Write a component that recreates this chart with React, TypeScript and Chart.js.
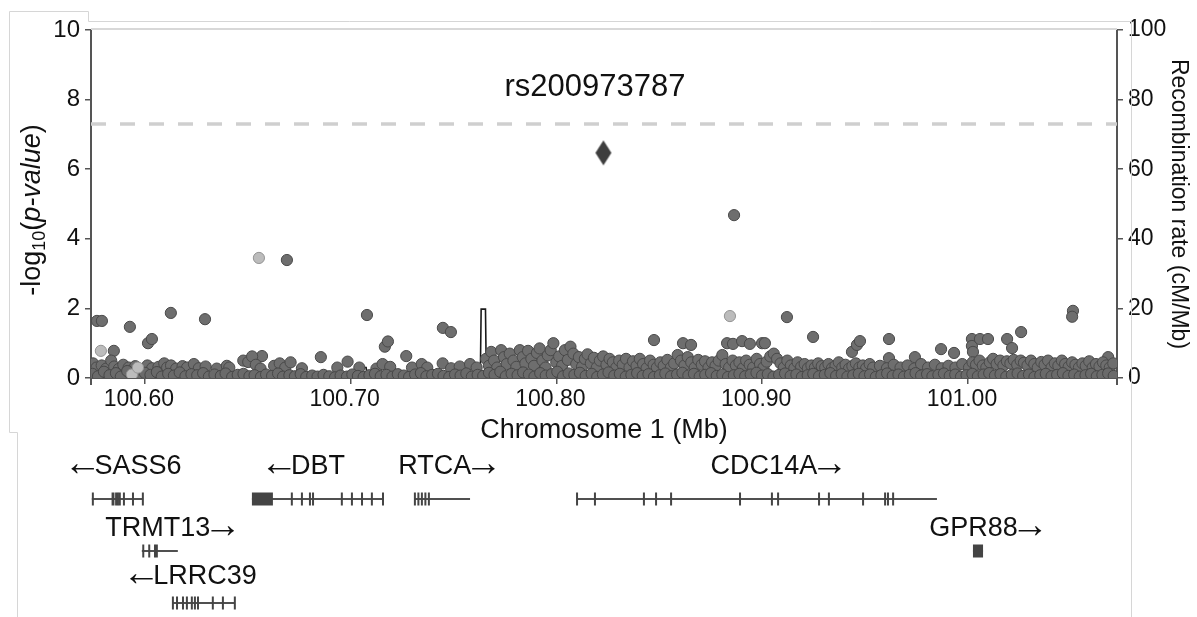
import React, { useEffect, useRef } from 'react';
import { Chart, registerables } from 'chart.js';

Chart.register(...registerables);

const FONT = '"Liberation Sans", Arial, Helvetica, sans-serif';

// ---------- axis data ----------
const X_MIN = 100.5738;
const X_MAX = 101.0724;
const xTicks = [100.6, 100.7, 100.8, 100.9, 101.0];
const yTicks = [0, 2, 4, 6, 8, 10];
const recombTicks = [0, 20, 40, 60, 80, 100];
const significanceLine = 7.3;

// ---------- lead SNP ----------
const leadSnpName = 'rs200973787';
const leadSnp: [number, number] = [100.8228, 6.47];

// ---------- SNPs (position Mb, -log10 p) ----------
const snpBand: [number, number][] = [
  [100.5745, 0.12], [100.5772, 0.05], [100.5801, 0.18], [100.5828, 0.08], [100.5859, 0.14], [100.5883, 0.04], [100.5914, 0.2], [100.5942, 0.1], [100.5968, 0.06], [100.5999, 0.15],
  [100.6027, 0.09], [100.6058, 0.17], [100.6082, 0.04], [100.6113, 0.12], [100.6141, 0.07], [100.6169, 0.16], [100.6197, 0.05], [100.6226, 0.11], [100.6254, 0.08], [100.6283, 0.14],
  [100.6311, 0.04], [100.6338, 0.1], [100.6369, 0.06], [100.6392, 0.13], [100.6424, 0.03], [100.6451, 0.09], [100.6479, 0.12], [100.6508, 0.05], [100.6533, 0.08], [100.6564, 0.03],
  [100.6589, 0.1], [100.6618, 0.06], [100.6647, 0.13], [100.6671, 0.04], [100.6702, 0.08], [100.6729, 0.05], [100.6757, 0.11], [100.6784, 0.03], [100.6813, 0.07], [100.6839, 0.04],
  [100.6868, 0.09], [100.6896, 0.05], [100.6924, 0.02], [100.6951, 0.07], [100.6982, 0.04], [100.7008, 0.1], [100.7035, 0.06], [100.7063, 0.03], [100.7091, 0.08], [100.7118, 0.12],
  [100.7146, 0.05], [100.7174, 0.09], [100.7203, 0.04], [100.7229, 0.11], [100.7258, 0.07], [100.7284, 0.03], [100.7313, 0.1], [100.7341, 0.14], [100.7368, 0.05], [100.7396, 0.09],
  [100.7424, 0.12], [100.7451, 0.06], [100.7479, 0.03], [100.7507, 0.1], [100.7534, 0.07], [100.7562, 0.13], [100.7589, 0.04], [100.7617, 0.09], [100.7644, 0.06], [100.7672, 0.15],
  [100.7699, 0.09], [100.7727, 0.18], [100.7754, 0.05], [100.7782, 0.12], [100.7811, 0.08], [100.7838, 0.16], [100.7866, 0.1], [100.7893, 0.04], [100.7921, 0.14], [100.7948, 0.07],
  [100.7977, 0.11], [100.8004, 0.18], [100.8032, 0.05], [100.8059, 0.13], [100.8087, 0.09], [100.8114, 0.15], [100.8142, 0.06], [100.8171, 0.12], [100.8198, 0.03], [100.8226, 0.1],
  [100.8253, 0.16], [100.8281, 0.07], [100.8308, 0.12], [100.8337, 0.04], [100.8364, 0.09], [100.8392, 0.14], [100.8419, 0.06], [100.8447, 0.11], [100.8474, 0.03], [100.8502, 0.08],
  [100.8529, 0.13], [100.8557, 0.05], [100.8586, 0.1], [100.8612, 0.15], [100.8641, 0.07], [100.8668, 0.12], [100.8696, 0.04], [100.8723, 0.09], [100.8751, 0.14], [100.8779, 0.06],
  [100.8806, 0.1], [100.8834, 0.03], [100.8862, 0.08], [100.8889, 0.12], [100.8917, 0.05], [100.8944, 0.1], [100.8972, 0.15], [100.8999, 0.07], [100.9027, 0.11], [100.9055, 0.04],
  [100.9082, 0.09], [100.9111, 0.13], [100.9138, 0.06], [100.9166, 0.1], [100.9193, 0.03], [100.9221, 0.08], [100.9248, 0.12], [100.9276, 0.05], [100.9304, 0.09], [100.9331, 0.14],
  [100.9359, 0.06], [100.9386, 0.11], [100.9414, 0.04], [100.9442, 0.08], [100.9469, 0.12], [100.9497, 0.05], [100.9524, 0.1], [100.9552, 0.03], [100.9579, 0.08], [100.9607, 0.13],
  [100.9634, 0.06], [100.9662, 0.1], [100.9689, 0.04], [100.9717, 0.09], [100.9745, 0.14], [100.9772, 0.07], [100.9801, 0.11], [100.9827, 0.05], [100.9856, 0.09], [100.9883, 0.13],
  [100.9911, 0.06], [100.9938, 0.1], [100.9966, 0.04], [100.9993, 0.08], [101.0021, 0.12], [101.0048, 0.05], [101.0076, 0.1], [101.0103, 0.14], [101.0131, 0.07], [101.0158, 0.11],
  [101.0186, 0.04], [101.0213, 0.09], [101.0241, 0.13], [101.0268, 0.06], [101.0296, 0.1], [101.0323, 0.03], [101.0351, 0.08], [101.0378, 0.12], [101.0406, 0.05], [101.0433, 0.09],
  [101.0461, 0.14], [101.0488, 0.06], [101.0516, 0.1], [101.0543, 0.04], [101.0571, 0.08], [101.0598, 0.12], [101.0626, 0.05], [101.0653, 0.09], [101.0681, 0.13], [101.0708, 0.06],
];

const snpMid: [number, number][] = [
  [100.5748, 0.42], [100.5765, 0.3], [100.579, 0.36], [100.5812, 0.27], [100.5836, 0.5], [100.5851, 0.33], [100.5873, 0.26], [100.5895, 0.38], [100.5921, 0.3], [100.5953, 0.34], [100.5978, 0.25],
  [100.6012, 0.36], [100.6035, 0.28], [100.6066, 0.32], [100.6094, 0.42], [100.6108, 0.3], [100.6127, 0.36], [100.6152, 0.27], [100.6183, 0.34], [100.6205, 0.3], [100.6238, 0.4], [100.6262, 0.28], [100.6295, 0.33], [100.6349, 0.27], [100.6398, 0.35], [100.641, 0.3],
  [100.6478, 0.5], [100.6502, 0.46], [100.6521, 0.62], [100.6539, 0.38], [100.6562, 0.27], [100.6628, 0.35], [100.6655, 0.42], [100.6682, 0.3], [100.6708, 0.45], [100.6763, 0.28], [100.6855, 0.6], [100.6935, 0.3], [100.6985, 0.47],
  [100.7042, 0.3], [100.7125, 0.27], [100.7155, 0.4], [100.7192, 0.32], [100.727, 0.63], [100.7298, 0.3], [100.7345, 0.4], [100.7372, 0.3], [100.7447, 0.42], [100.7488, 0.28], [100.753, 0.33], [100.758, 0.4], [100.7612, 0.3],
  [100.7658, 0.55], [100.7672, 0.35], [100.7683, 0.75], [100.7697, 0.5], [100.7712, 0.3], [100.7731, 0.8], [100.7745, 0.6], [100.7758, 0.4], [100.7773, 0.7], [100.7791, 0.5], [100.7805, 0.32], [100.7822, 0.8], [100.7836, 0.6], [100.7849, 0.42], [100.7862, 0.78],
  [100.7878, 0.55], [100.7891, 0.35], [100.7905, 0.72], [100.7918, 0.85], [100.7932, 0.5], [100.7947, 0.3], [100.7958, 0.65], [100.7972, 0.8], [100.7985, 1.0], [100.7999, 0.45], [100.8013, 0.62], [100.8027, 0.35], [100.8041, 0.8], [100.8055, 0.52], [100.8068, 0.9],
  [100.8082, 0.7], [100.8096, 0.4], [100.8109, 0.6], [100.8124, 0.32], [100.8138, 0.55], [100.8151, 0.68], [100.8167, 0.42], [100.8182, 0.58], [100.8196, 0.3], [100.8211, 0.5], [100.8227, 0.62], [100.8243, 0.38], [100.8258, 0.55], [100.8274, 0.45], [100.8291, 0.3],
  [100.8305, 0.5], [100.8322, 0.38], [100.8338, 0.55], [100.8355, 0.3], [100.8372, 0.48], [100.8389, 0.35], [100.8405, 0.55], [100.8421, 0.4], [100.8438, 0.28], [100.8455, 0.5], [100.8472, 0.38], [100.8488, 0.3], [100.8505, 0.45], [100.8521, 0.35], [100.8539, 0.52],
  [100.8556, 0.3], [100.8572, 0.42], [100.8589, 0.66], [100.8605, 0.5], [100.8622, 0.36], [100.8638, 0.6], [100.8655, 0.45], [100.8672, 0.3], [100.8689, 0.52], [100.8706, 0.38], [100.8722, 0.48], [100.8739, 0.3], [100.8756, 0.45], [100.8773, 0.35], [100.8789, 0.5],
  [100.8806, 0.66], [100.8822, 0.4], [100.8839, 0.3], [100.8856, 0.5], [100.8872, 0.36], [100.8889, 0.45], [100.8906, 0.28], [100.8922, 0.5], [100.8939, 0.38], [100.8956, 0.3], [100.8973, 0.55], [100.8989, 0.4], [100.9006, 0.3], [100.9022, 0.47], [100.9039, 0.62],
  [100.9056, 0.7], [100.9072, 0.55], [100.9089, 0.42], [100.9105, 0.3], [100.9122, 0.5], [100.9139, 0.36], [100.9156, 0.28], [100.9172, 0.45], [100.9189, 0.32], [100.9206, 0.4], [100.9222, 0.28], [100.9239, 0.36], [100.9256, 0.3], [100.9272, 0.42], [100.9289, 0.34],
  [100.9306, 0.3], [100.9322, 0.4], [100.9339, 0.28], [100.9356, 0.35], [100.9372, 0.45], [100.9389, 0.3], [100.9405, 0.38], [100.9422, 0.27], [100.9438, 0.34], [100.9455, 0.42], [100.9472, 0.3], [100.9489, 0.36], [100.9505, 0.28], [100.9522, 0.4], [100.9539, 0.3],
  [100.9572, 0.35], [100.9606, 0.28], [100.9639, 0.38], [100.9672, 0.3], [100.9706, 0.36], [100.9739, 0.27], [100.9772, 0.4], [100.9806, 0.3], [100.9839, 0.38], [100.9872, 0.28], [100.9905, 0.35], [100.9939, 0.3], [100.9972, 0.4],
  [101.0005, 0.3], [101.0022, 0.45], [101.0039, 0.38], [101.0056, 0.5], [101.0072, 0.36], [101.0089, 0.3], [101.0106, 0.45], [101.0122, 0.55], [101.0139, 0.4], [101.0156, 0.5], [101.0172, 0.36], [101.0189, 0.48], [101.0206, 0.42], [101.0222, 0.52], [101.0239, 0.38],
  [101.0256, 0.5], [101.0272, 0.44], [101.0289, 0.36], [101.0306, 0.5], [101.0322, 0.4], [101.0339, 0.3], [101.0356, 0.46], [101.0372, 0.38], [101.0389, 0.5], [101.0406, 0.3], [101.0422, 0.42], [101.0439, 0.35], [101.0456, 0.5], [101.0472, 0.4], [101.0489, 0.32],
  [101.0506, 0.45], [101.0522, 0.38], [101.0539, 0.3], [101.0556, 0.42], [101.0572, 0.35], [101.0589, 0.48], [101.0606, 0.3], [101.0622, 0.4], [101.0639, 0.33], [101.0656, 0.45], [101.0672, 0.36], [101.0689, 0.3], [101.0706, 0.42],
];

const snpUpper: [number, number][] = [
  [100.5767, 1.64], [100.5791, 1.64], [100.5849, 0.78], [100.5927, 1.47], [100.6015, 1.0], [100.6034, 1.12], [100.6126, 1.87], [100.6292, 1.69],
  [100.6496, 0.48], [100.6569, 0.63], [100.669, 3.39], [100.7079, 1.81], [100.7166, 0.9], [100.7181, 1.05], [100.7448, 1.44], [100.7487, 1.32],
  [100.8474, 1.09], [100.8615, 1.0], [100.8654, 0.95], [100.8829, 1.0], [100.8858, 0.98], [100.8863, 4.68], [100.8902, 1.06], [100.894, 0.98],
  [100.8999, 1.0], [100.9013, 1.0], [100.912, 1.75], [100.9247, 1.18], [100.9436, 0.75], [100.946, 0.95], [100.9475, 1.06], [100.9616, 1.12],
  [100.9616, 0.57], [100.9742, 0.6], [100.9869, 0.83], [100.9932, 0.72], [101.0019, 1.12], [101.0019, 0.92], [101.0024, 0.75], [101.0058, 1.12],
  [101.0097, 1.12], [101.019, 1.12], [101.0214, 0.86], [101.0258, 1.32], [101.051, 1.93], [101.0506, 1.76], [101.0681, 0.6],
];

const snpLight: [number, number][] = [
  [100.5786, 0.78], [100.5937, 0.1], [100.5966, 0.3], [100.6554, 3.45], [100.8843, 1.78],
];

// ---------- recombination rate (position Mb, cM/Mb) ----------
const recombRate: [number, number][] = [
  [100.5738, 0.6], [100.6, 0.8], [100.64, 0.5], [100.704, 0.5], [100.7045, 3.0], [100.7075, 3.0], [100.708, 0.4],
  [100.763, 0.6], [100.7634, 19.8], [100.7655, 19.8], [100.7659, 0.8], [100.83, 1.0], [100.89, 0.6], [100.9, 0.6],
  [100.9005, 1.8], [100.9025, 1.8], [100.903, 0.5], [100.9255, 0.5], [100.9258, 3.8], [100.927, 3.8], [100.9273, 0.5],
  [101.0, 0.8], [101.04, 0.8], [101.0724, 0.6],
];

// ---------- genes ----------
type Gene = { name: string; dir: number; row: number; start: number; end: number; label: number; exons: [number, number][] };
const genes: Gene[] = [
  { name: 'SASS6', dir: -1, row: 0, start: 100.5742, end: 100.599, label: 100.5966,
    exons: [[100.5747, 100.5747], [100.5838, 100.5852], [100.586, 100.586], [100.5869, 100.5869], [100.5878, 100.5878], [100.5898, 100.5898], [100.5942, 100.5942], [100.599, 100.599]] },
  { name: 'DBT', dir: -1, row: 0, start: 100.652, end: 100.7157, label: 100.6841,
    exons: [[100.652, 100.6622], [100.6714, 100.6714], [100.6763, 100.6763], [100.6802, 100.6802], [100.6817, 100.6817], [100.6957, 100.6957], [100.7006, 100.7006], [100.7055, 100.7055], [100.7103, 100.7103], [100.7157, 100.7157]] },
  { name: 'RTCA', dir: 1, row: 0, start: 100.7312, end: 100.758, label: 100.7409,
    exons: [[100.7312, 100.7312], [100.7329, 100.7329], [100.7346, 100.7346], [100.7363, 100.7363], [100.738, 100.738]] },
  { name: 'CDC14A', dir: 1, row: 0, start: 100.81, end: 100.9849, label: 100.9008,
    exons: [[100.81, 100.81], [100.8187, 100.8187], [100.8425, 100.8425], [100.8484, 100.8484], [100.8557, 100.8557], [100.8892, 100.8892], [100.9047, 100.9047], [100.9077, 100.9077],
      [100.9276, 100.9276], [100.9324, 100.9324], [100.949, 100.949], [100.9597, 100.9597], [100.9611, 100.9611], [100.9636, 100.9636]] },
  { name: 'TRMT13', dir: 1, row: 1, start: 100.5985, end: 100.616, label: 100.6063,
    exons: [[100.5992, 100.5992], [100.6021, 100.6021], [100.6049, 100.6049], [100.6058, 100.6058]] },
  { name: 'GPR88', dir: 1, row: 1, start: 101.0024, end: 101.0073, label: 101.0027,
    exons: [[101.0024, 101.0073]] },
  { name: 'LRRC39', dir: -1, row: 2, start: 100.6136, end: 100.6437, label: 100.6292,
    exons: [[100.6136, 100.6136], [100.6156, 100.6156], [100.6185, 100.6185], [100.6204, 100.6204], [100.6228, 100.6228], [100.6243, 100.6243], [100.6258, 100.6258], [100.633, 100.633], [100.6379, 100.6379], [100.6437, 100.6437]] },
];

const toXY = (arr: [number, number][]) => arr.map(([x, y]) => ({ x, y }));

export default function App() {
  const ref = useRef<HTMLCanvasElement>(null);

  useEffect(() => {
    const canvas = ref.current;
    if (!canvas) return;

    const diamond = document.createElement('canvas');
    diamond.width = 18;
    diamond.height = 27;
    const dctx = diamond.getContext('2d')!;
    dctx.fillStyle = '#3e3e3e';
    dctx.beginPath();
    dctx.moveTo(9, 1);
    dctx.lineTo(17, 13.5);
    dctx.lineTo(9, 26);
    dctx.lineTo(1, 13.5);
    dctx.closePath();
    dctx.fill();

    const decor = {
      id: 'decor',
      beforeDraw(chart: any) {
        const ctx = chart.ctx;
        ctx.save();
        ctx.fillStyle = '#ffffff';
        ctx.fillRect(0, 0, chart.width, chart.height);
        ctx.restore();
      },
      beforeDatasetsDraw(chart: any) {
        const ctx = chart.ctx;
        const { left, right } = chart.chartArea;
        const y = chart.scales.y.getPixelForValue(significanceLine);
        ctx.save();
        ctx.strokeStyle = '#cfcfcf';
        ctx.lineWidth = 3.5;
        ctx.setLineDash([15, 14]);
        ctx.beginPath();
        ctx.moveTo(left, y);
        ctx.lineTo(right, y);
        ctx.stroke();
        ctx.restore();
      },
      afterDraw(chart: any) {
        const ctx = chart.ctx;
        const { left, right, top, bottom } = chart.chartArea;
        const xs = chart.scales.x;
        ctx.save();

        // outer light frame
        ctx.strokeStyle = '#d6d6d6';
        ctx.lineWidth = 1;
        ctx.beginPath();
        ctx.moveTo(9.5, 432.5);
        ctx.lineTo(9.5, 11.5);
        ctx.lineTo(88.5, 11.5);
        ctx.lineTo(88.5, 21.5);
        ctx.lineTo(1131.5, 21.5);
        ctx.lineTo(1131.5, 617);
        ctx.moveTo(9.5, 432.5);
        ctx.lineTo(17.5, 432.5);
        ctx.lineTo(17.5, 617);
        ctx.stroke();

        // plot top border
        ctx.strokeStyle = '#d8d8d8';
        ctx.lineWidth = 2;
        ctx.beginPath();
        ctx.moveTo(left, top - 1);
        ctx.lineTo(right, top - 1);
        ctx.stroke();

        // axis end stubs below the x axis
        ctx.strokeStyle = '#555';
        ctx.lineWidth = 2;
        ctx.beginPath();
        ctx.moveTo(left, bottom);
        ctx.lineTo(left, bottom + 7);
        ctx.moveTo(right, bottom);
        ctx.lineTo(right, bottom + 7);
        ctx.stroke();

        ctx.fillStyle = '#111';
        // title
        ctx.font = `31px ${FONT}`;
        ctx.textAlign = 'center';
        ctx.textBaseline = 'middle';
        ctx.fillText(leadSnpName, 595, 87);

        // x-axis title
        ctx.font = `27px ${FONT}`;
        ctx.fillText('Chromosome 1 (Mb)', 604, 431);

        // left y title: -log10(p-value)
        ctx.save();
        ctx.translate(40, 210);
        ctx.rotate(-Math.PI / 2);
        ctx.textAlign = 'left';
        ctx.textBaseline = 'alphabetic';
        const parts = [
          { t: '-log', f: `27px ${FONT}`, dy: 0 },
          { t: '10', f: `18px ${FONT}`, dy: 5 },
          { t: '(', f: `27px ${FONT}`, dy: 0 },
          { t: 'p-value', f: `italic 27px ${FONT}`, dy: 0 },
          { t: ')', f: `27px ${FONT}`, dy: 0 },
        ];
        let total = 0;
        for (const p of parts) {
          ctx.font = p.f;
          total += ctx.measureText(p.t).width;
        }
        let tx = -total / 2;
        for (const p of parts) {
          ctx.font = p.f;
          ctx.fillText(p.t, tx, p.dy);
          tx += ctx.measureText(p.t).width;
        }
        ctx.restore();

        // gene track
        const rowLabelY = [467, 529, 577];
        const rowGeneY = [499, 551, 603];
        const nameFont = `27px ${FONT}`;
        const arrowFont = `38px ${FONT}`;
        for (const g of genes) {
          const gy = rowGeneY[g.row];
          const x0 = xs.getPixelForValue(g.start);
          const x1 = xs.getPixelForValue(g.end);
          ctx.strokeStyle = '#505050';
          ctx.lineWidth = 2;
          ctx.beginPath();
          ctx.moveTo(x0, gy);
          ctx.lineTo(x1, gy);
          ctx.stroke();
          ctx.fillStyle = '#444';
          for (const [s, e] of g.exons) {
            const ex0 = xs.getPixelForValue(s);
            const ex1 = xs.getPixelForValue(e);
            const w = Math.max(2, ex1 - ex0);
            ctx.fillRect(ex0 - (ex1 - ex0 < 2 ? 1 : 0), gy - 6.5, w, 13);
          }
          // label: name centred on its anchor, arrow attached on the strand side
          ctx.fillStyle = '#111';
          ctx.textAlign = 'left';
          ctx.textBaseline = 'middle';
          ctx.font = nameFont;
          const nameW = ctx.measureText(g.name).width;
          const arrow = g.dir < 0 ? '\u2190' : '\u2192';
          ctx.font = arrowFont;
          const arrowW = ctx.measureText(arrow).width;
          const cx = xs.getPixelForValue(g.label);
          const ly = rowLabelY[g.row];
          const nameX = cx - nameW / 2;
          ctx.font = nameFont;
          ctx.fillText(g.name, nameX, ly);
          ctx.font = arrowFont;
          if (g.dir < 0) {
            ctx.fillText(arrow, nameX - arrowW + 7, ly - 2);
          } else {
            ctx.fillText(arrow, nameX + nameW - 7, ly - 2);
          }
        }
        ctx.restore();
      },
    };

    const pointBase = {
      type: 'scatter' as const,
      xAxisID: 'x',
      yAxisID: 'y',
      pointRadius: 5.6,
      pointBorderWidth: 1,
      clip: 0,
    };

    const chart = new Chart(canvas, {
      type: 'scatter',
      data: {
        datasets: [
          {
            type: 'line',
            label: 'Recombination rate',
            data: toXY(recombRate),
            xAxisID: 'x',
            yAxisID: 'y2',
            borderColor: '#1a1a1a',
            borderWidth: 1.6,
            pointRadius: 0,
            fill: false,
            tension: 0,
            order: 4,
            clip: 0,
          } as any,
          { ...pointBase, label: 'band', data: toXY(snpBand), backgroundColor: '#6a6a6a', borderColor: '#474747', order: 3 },
          { ...pointBase, label: 'mid', data: toXY(snpMid), backgroundColor: '#6e6e6e', borderColor: '#4a4a4a', order: 3 },
          { ...pointBase, label: 'upper', data: toXY(snpUpper), backgroundColor: '#6e6e6e', borderColor: '#4a4a4a', order: 3 },
          { ...pointBase, label: 'light', data: toXY(snpLight), backgroundColor: '#bcbcbc', borderColor: '#959595', order: 2 },
          {
            type: 'scatter',
            label: leadSnpName,
            data: toXY([leadSnp]),
            xAxisID: 'x',
            yAxisID: 'y',
            pointStyle: diamond,
            pointRadius: 12,
            order: 1,
          } as any,
        ],
      },
      options: {
        responsive: false,
        maintainAspectRatio: false,
        animation: false,
        devicePixelRatio: 1,
        events: [],
        layout: { padding: { top: 30, left: 0, right: 0, bottom: 0 } },
        plugins: {
          legend: { display: false },
          tooltip: { enabled: false },
          title: { display: false },
        },
        scales: {
          x: {
            type: 'linear',
            position: 'bottom',
            min: X_MIN,
            max: X_MAX,
            afterBuildTicks: (s: any) => {
              s.ticks = xTicks.map((v) => ({ value: v }));
            },
            afterFit: (s: any) => {
              s.height = 617 - 378;
            },
            ticks: {
              autoSkip: false,
              maxRotation: 0,
              padding: 2,
              labelOffset: -6,
              color: '#111',
              font: { family: FONT, size: 23 },
              callback: (v: any) => Number(v).toFixed(2),
            },
            grid: { drawOnChartArea: false, drawTicks: true, tickLength: 6, color: '#555', lineWidth: 1.5 },
            border: { display: true, color: '#555', width: 2 },
          },
          y: {
            type: 'linear',
            position: 'left',
            min: 0,
            max: 10,
            afterBuildTicks: (s: any) => {
              s.ticks = yTicks.map((v) => ({ value: v }));
            },
            afterFit: (s: any) => {
              s.width = 91;
            },
            ticks: { padding: 5, color: '#111', font: { family: FONT, size: 24 } },
            grid: { drawOnChartArea: false, drawTicks: true, tickLength: 6, color: '#555', lineWidth: 1.5 },
            border: { display: true, color: '#555', width: 2 },
          },
          y2: {
            type: 'linear',
            position: 'right',
            min: 0,
            max: 100,
            afterBuildTicks: (s: any) => {
              s.ticks = recombTicks.map((v) => ({ value: v }));
            },
            afterFit: (s: any) => {
              s.width = 1197 - 1117;
            },
            ticks: { padding: 5, color: '#111', font: { family: FONT, size: 23 } },
            grid: { drawOnChartArea: false, drawTicks: true, tickLength: 6, color: '#555', lineWidth: 1.5 },
            border: { display: true, color: '#555', width: 2 },
            title: {
              display: true,
              text: 'Recombination rate (cM/Mb)',
              color: '#111',
              font: { family: FONT, size: 23 },
              padding: { top: 5, bottom: 0 },
            },
          },
        },
      } as any,
      plugins: [decor],
    });

    return () => chart.destroy();
  }, []);

  return (
    <div style={{ position: 'fixed', left: 0, top: 0, width: 1197, height: 617, background: '#fff' }}>
      <canvas ref={ref} width={1197} height={617} style={{ display: 'block', width: 1197, height: 617 }} />
    </div>
  );
}
